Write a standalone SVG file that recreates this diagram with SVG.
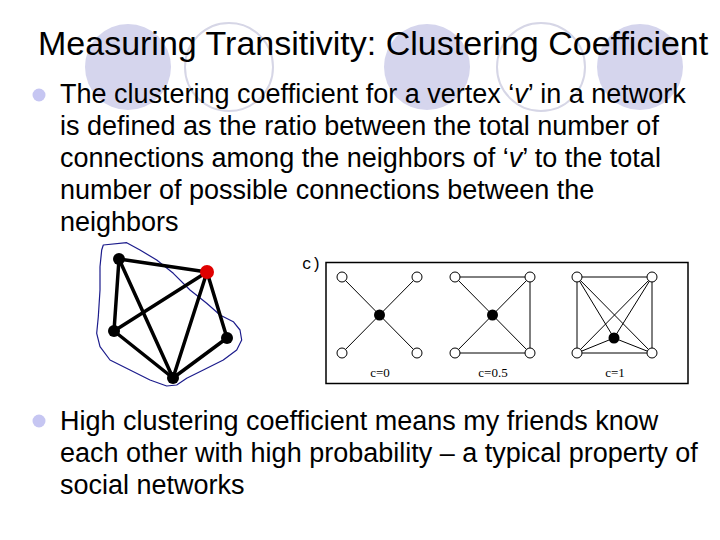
<svg xmlns="http://www.w3.org/2000/svg" width="720" height="540" viewBox="0 0 720 540">
<style>
.deco-f{fill:#d5d5ed;stroke:none}
.deco-o{fill:none;stroke:#d6d6e6;stroke-width:2}
.title{font-family:"Liberation Sans",Arial,sans-serif;font-size:34px;fill:#000}
.body{font-family:"Liberation Sans",Arial,sans-serif;font-size:27px;fill:#000}
.bullet{fill:#c6c6f2}
.thick{stroke:#000;stroke-width:3.5;stroke-linecap:round}
.thin{stroke:#000;stroke-width:1;fill:none}
.wn{fill:#fff;stroke:#000;stroke-width:1}
.bn{fill:#000}
.lab{font-family:"Liberation Serif","Times New Roman",serif;font-size:13px;fill:#000}
.clab{font-family:"Liberation Mono","Courier New",monospace;font-size:16px;fill:#000}
</style>
<rect width="720" height="540" fill="#fff"/>
<g id="decor">
<circle class="deco-f" cx="128" cy="67" r="43"/>
<circle class="deco-o" cx="229" cy="67" r="44"/>
<circle class="deco-f" cx="427" cy="67" r="43"/>
<circle class="deco-o" cx="541" cy="67" r="44"/>
<circle class="deco-f" cx="640" cy="67" r="43"/>
</g>
<text class="title" x="38" y="55">Measuring Transitivity: Clustering Coefficient</text>
<g id="bullet1">
<circle class="bullet" cx="39" cy="95" r="6.5"/>
<text class="body" x="60" y="103">The clustering coefficient for a vertex ‘<tspan font-style="italic">v</tspan>’ in a network</text>
<text class="body" x="60" y="135">is defined as the ratio between the total number of</text>
<text class="body" x="60" y="167">connections among the neighbors of ‘<tspan font-style="italic">v</tspan>’ to the total</text>
<text class="body" x="60" y="199">number of possible connections between the</text>
<text class="body" x="60" y="231">neighbors</text>
</g>
<g id="bullet2">
<circle class="bullet" cx="39" cy="421" r="6.5"/>
<text class="body" x="60" y="430">High clustering coefficient means my friends know</text>
<text class="body" x="60" y="462">each other with high probability – a typical property of</text>
<text class="body" x="60" y="494">social networks</text>
</g>
<g id="graph-left">
<path d="M103.3,245 L126.7,242.7 L140,250 L156.7,260 L173.3,273.3 L190,290 L206.7,303.3 L220,315 L233.3,321.7 L240,330 L241.7,340 L236.7,350 L223.3,360 L203.3,370 L186.7,378.3 L176.7,385 L166.7,386 L150,380 L130,370 L110,360 L100,346.7 L96.7,333.3 L98.3,316.7 L100,290 L100,266.7 L101.7,250 Z" fill="none" stroke="#1c1c8c" stroke-width="1.2" stroke-linejoin="round"/>
<g id="left-edges">
<line class="thick" x1="119" y1="259" x2="207" y2="272"/>
<line class="thick" x1="119" y1="259" x2="114" y2="331"/>
<line class="thick" x1="119" y1="259" x2="173" y2="378"/>
<line class="thick" x1="114" y1="331" x2="207" y2="272"/>
<line class="thick" x1="114" y1="331" x2="173" y2="378"/>
<line class="thick" x1="207" y1="272" x2="173" y2="378"/>
<line class="thick" x1="207" y1="272" x2="227" y2="338"/>
<line class="thick" x1="227" y1="338" x2="173" y2="378"/>
</g>
<circle id="n-tl" cx="119" cy="259" r="6" fill="#000"/>
<circle id="n-red" cx="207" cy="272" r="7" fill="#e00000"/>
<circle id="n-l" cx="114" cy="331" r="6" fill="#000"/>
<circle id="n-r" cx="227" cy="338" r="6" fill="#000"/>
<circle id="n-b" cx="173" cy="378" r="6" fill="#000"/>
</g>
<g id="graph-right">
<text class="clab" x="302" y="269">c)</text>
<rect x="326" y="262.5" width="362" height="121" fill="#fff" stroke="#000" stroke-width="1.5"/>
<g id="right-edges">
<line class="thin" x1="342" y1="277" x2="417" y2="353"/>
<line class="thin" x1="417" y1="277" x2="342" y2="353"/>
<line class="thin" x1="455" y1="277" x2="530" y2="353"/>
<line class="thin" x1="530" y1="277" x2="455" y2="353"/>
<line class="thin" x1="455" y1="277" x2="530" y2="277"/>
<line class="thin" x1="530" y1="277" x2="530" y2="353"/>
<line class="thin" x1="455" y1="353" x2="530" y2="353"/>
<line class="thin" x1="577" y1="277" x2="652" y2="277"/>
<line class="thin" x1="577" y1="277" x2="577" y2="353" stroke-width="2"/>
<line class="thin" x1="652" y1="277" x2="652" y2="353"/>
<line class="thin" x1="577" y1="353" x2="652" y2="353"/>
<line class="thin" x1="577" y1="277" x2="652" y2="353"/>
<line class="thin" x1="652" y1="277" x2="577" y2="353"/>
<line class="thin" x1="577" y1="277" x2="614" y2="338"/>
<line class="thin" x1="652" y1="277" x2="614" y2="338"/>
<line class="thin" x1="577" y1="353" x2="614" y2="338"/>
<line class="thin" x1="652" y1="353" x2="614" y2="338"/>
</g>
<circle class="wn" cx="342" cy="277" r="5"/>
<circle class="wn" cx="417" cy="277" r="5"/>
<circle class="wn" cx="342" cy="353" r="5"/>
<circle class="wn" cx="417" cy="353" r="5"/>
<circle class="bn" cx="379.5" cy="315" r="5.5"/>
<circle class="wn" cx="455" cy="277" r="5"/>
<circle class="wn" cx="530" cy="277" r="5"/>
<circle class="wn" cx="455" cy="353" r="5"/>
<circle class="wn" cx="530" cy="353" r="5"/>
<circle class="bn" cx="492.5" cy="315" r="5.5"/>
<circle class="wn" cx="577" cy="277" r="5"/>
<circle class="wn" cx="652" cy="277" r="5"/>
<circle class="wn" cx="577" cy="353" r="5"/>
<circle class="wn" cx="652" cy="353" r="5"/>
<circle class="bn" cx="614" cy="338" r="5.5"/>
<text class="lab" x="380" y="377" text-anchor="middle">c=0</text>
<text class="lab" x="493" y="377" text-anchor="middle">c=0.5</text>
<text class="lab" x="615" y="377" text-anchor="middle">c=1</text>
</g>
</svg>
